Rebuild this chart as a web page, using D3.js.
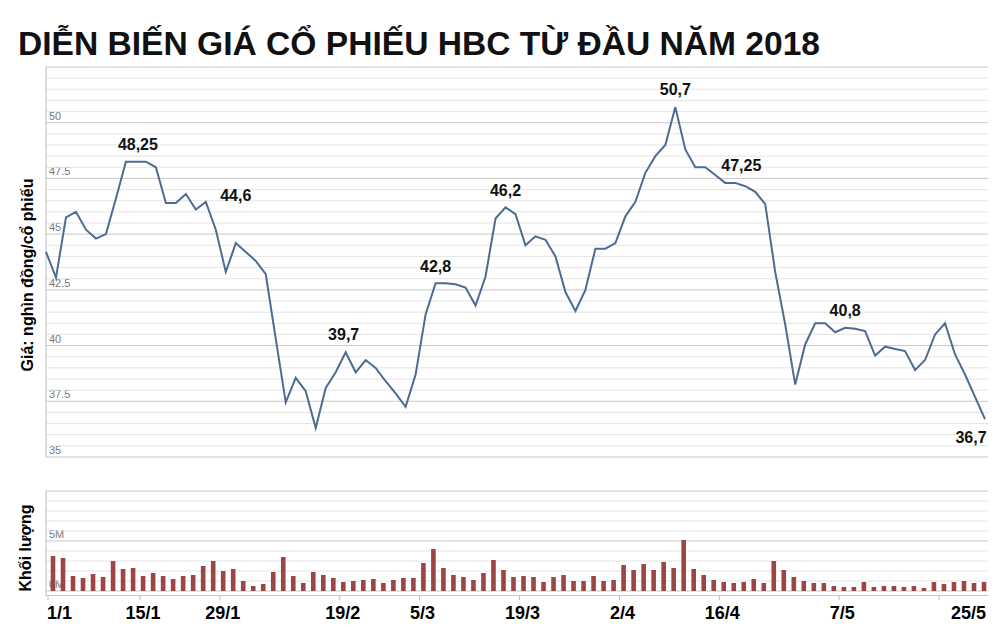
<!DOCTYPE html>
<html><head><meta charset="utf-8">
<script src="https://cdn.jsdelivr.net/npm/d3@7"></script>
<style>body{margin:0;background:#fff;font-family:"Liberation Sans",Arial,sans-serif}</style>
</head><body>
<script>
// Giá đóng cửa (nghìn đồng)
const prices = [44.2,43.05,45.75,46.0,45.2,44.8,45.0,46.6,48.25,48.25,48.25,48.0,46.4,46.4,46.8,46.1,46.45,45.2,43.3,44.6,
  44.2,43.8,43.2,40.3,37.45,38.55,37.95,36.3,38.1,38.8,39.7,38.8,39.35,39.0,38.4,37.85,37.25,38.7,41.4,42.8,
  42.8,42.75,42.6,41.8,43.1,45.7,46.2,45.9,44.5,44.9,44.75,44.0,42.4,41.55,42.5,44.35,44.35,44.6,45.8,46.45,
  47.75,48.5,49.0,50.7,48.8,48.0,48.0,47.65,47.3,47.3,47.15,46.9,46.35,43.3,40.95,38.25,40.05,41.0,41.0,40.6,
  40.8,40.75,40.65,39.55,39.95,39.85,39.75,38.9,39.35,40.5,41.0,39.6,38.7,37.7,36.7];
// Khối lượng (triệu cp)
const volumes = [3.5,3.3,1.5,1.3,1.7,1.4,3.0,2.2,2.3,1.5,1.8,1.5,1.2,1.5,1.6,2.5,3.0,2.0,2.2,1.0,
  0.5,0.7,1.9,3.4,1.5,0.8,1.9,1.6,1.3,0.9,1.0,1.1,1.2,0.8,1.1,1.3,1.3,2.8,4.2,2.3,
  1.6,1.4,1.1,1.8,3.1,2.1,1.4,1.5,1.4,0.9,1.4,1.6,1.0,1.0,1.5,1.0,1.1,2.6,2.1,2.7,
  2.1,2.9,2.3,5.1,2.2,1.6,1.1,0.9,0.8,0.9,1.2,0.8,3.0,2.1,1.4,1.0,0.8,0.8,0.5,0.4,
  0.4,0.9,0.4,0.5,0.5,0.4,0.5,0.3,0.9,0.7,0.9,1.0,0.8,0.9];
const tickIdx = [0,9,17,29,37,47,57,67,79,89];
const tickLabels = ["1/1","15/1","29/1","19/2","5/3","19/3","2/4","16/4","7/5","25/5"];
const annIdx = [9,19,30,39,46,63,69,80,94];
const annLabels = ["48,25","44,6","39,7","42,8","46,2","50,7","47,25","40,8","36,7"];
const annDx = [2,0,-2,0,0,0,6,0,-14];
const annDy = [-12,-42,-12,-11,-11,-12,-12,-12,24];

const W = 1004, H = 642;
const svg = d3.select("body").append("svg").attr("width", W).attr("height", H);

svg.append("text").attr("x", 18).attr("y", 55)
  .attr("font-size", 33).attr("font-weight", "bold").attr("fill", "#111")
  .attr("textLength", 802).attr("lengthAdjust", "spacingAndGlyphs")
  .text("DIỄN BIẾN GIÁ CỔ PHIẾU HBC TỪ ĐẦU NĂM 2018");

const left = 46, right = 988;
const x = d3.scaleLinear().domain([0, prices.length - 1]).range([46, 985]);
const xb = d3.scaleLinear().domain([0, volumes.length - 1]).range([53, 984]);
const y = d3.scaleLinear().domain([35, 52.5]).range([457, 67]);
const yv = d3.scaleLinear().domain([0, 10]).range([591, 491]);

// lưới giá
const g = svg.append("g");
d3.range(35, 52.51, 0.5).forEach(v => {
  const major = Math.abs(v / 2.5 - Math.round(v / 2.5)) < 1e-6;
  g.append("line").attr("x1", left).attr("x2", right).attr("y1", y(v)).attr("y2", y(v))
    .attr("stroke", major ? "#c8c8c8" : "#e4e4e4").attr("stroke-width", 1);
  if (major && v < 52.5) g.append("text").attr("x", 49).attr("y", y(v) - 3)
    .attr("font-size", 11).attr("fill", "#777").text(String(v));
});
g.append("line").attr("x1", left).attr("x2", left).attr("y1", y(52.5)).attr("y2", y(35)).attr("stroke", "#bbb");

svg.append("path").datum(prices)
  .attr("fill", "none").attr("stroke", "#4d6c92").attr("stroke-width", 2)
  .attr("d", d3.line().x((d, i) => x(i)).y(d => y(d)));

annIdx.forEach((idx, k) => {
  svg.append("text").attr("x", x(idx) + annDx[k]).attr("y", y(prices[idx]) + annDy[k])
    .attr("text-anchor", "middle").attr("font-size", 16).attr("font-weight", "bold")
    .attr("fill", "#111").text(annLabels[k]);
});

svg.append("text").attr("transform", "translate(33,275) rotate(-90)")
  .attr("text-anchor", "middle").attr("font-size", 16).attr("font-weight", "bold")
  .text("Giá: nghìn đồng/cổ phiếu");

// khối lượng
const gv = svg.append("g");
d3.range(0, 10.01, 1).forEach(v => {
  const major = v % 5 === 0;
  gv.append("line").attr("x1", left).attr("x2", right).attr("y1", yv(v)).attr("y2", yv(v))
    .attr("stroke", major ? "#c8c8c8" : "#e4e4e4");
  if (v === 0 || v === 5) gv.append("text").attr("x", 49).attr("y", yv(v) - 3)
    .attr("font-size", 11).attr("fill", "#777").text(v + "M");
});
gv.append("line").attr("x1", left).attr("x2", left).attr("y1", yv(10)).attr("y2", 596).attr("stroke", "#bbb");
gv.selectAll("rect").data(volumes).enter().append("rect")
  .attr("x", (d, i) => xb(i) - 2.3).attr("width", 4.6)
  .attr("y", d => yv(d)).attr("height", d => yv(0) - yv(d))
  .attr("fill", "#9b4545");

svg.append("text").attr("transform", "translate(31,548) rotate(-90)")
  .attr("text-anchor", "middle").attr("font-size", 16).attr("font-weight", "bold")
  .text("Khối lượng");

// trục thời gian
const ax = svg.append("g");
ax.append("line").attr("x1", left).attr("x2", right).attr("y1", 595.5).attr("y2", 595.5).attr("stroke", "#c8c8c8");
tickIdx.forEach((idx, k) => {
  const first = k === 0, last = k === tickIdx.length - 1;
  const px = first ? x(idx) + 2 : x(idx) + 4;
  ax.append("line").attr("x1", px).attr("x2", px).attr("y1", 596).attr("y2", 600).attr("stroke", "#bbb");
  ax.append("text").attr("x", first ? 47 : last ? 986 : px + 3)
    .attr("y", 619).attr("font-size", 18).attr("font-weight", "bold")
    .attr("text-anchor", first ? "start" : last ? "end" : "middle")
    .text(tickLabels[k]);
});
</script>
</body></html>
